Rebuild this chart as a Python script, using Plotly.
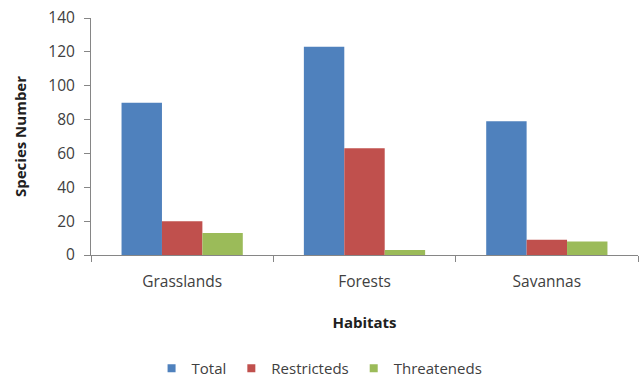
import plotly.graph_objects as go

habitats = ["Grasslands", "Forests", "Savannas"]
total = [90, 123, 79]
restricted = [20, 63, 9]
threatened = [13, 3, 8]
series_names = ["Total", "Restricteds", "Threateneds"]
colors = ["#4F81BD", "#C0504D", "#9BBB59"]

fig = go.Figure()
for name, vals, c in zip(series_names, [total, restricted, threatened], colors):
    fig.add_trace(go.Bar(x=habitats, y=vals, name=name, marker_color=c,
                         marker_line_width=0, showlegend=False))
# legend entries with small square swatches
for name, c in zip(series_names, colors):
    fig.add_trace(go.Scatter(x=[None], y=[None], mode="markers", name=name,
                             marker=dict(symbol="square", size=8, color=c),
                             showlegend=True))

font_family = "Open Sans, Liberation Sans, sans-serif"
fig.update_layout(
    width=643, height=380,
    margin=dict(l=91, r=5, t=18, b=125),
    plot_bgcolor="white", paper_bgcolor="white",
    barmode="group", bargap=0.335, bargroupgap=0,
    font=dict(family=font_family, size=15.5, color="#404040"),
    showlegend=True,
    legend=dict(orientation="h", x=0.497, xanchor="center", xref="container",
                y=0.03, yanchor="middle", yref="container", itemwidth=30,
                font=dict(size=15, color="#404040"), traceorder="normal"),
    xaxis=dict(
        showline=True, linecolor="#868686", linewidth=1,
        ticks="outside", ticklen=6, tickcolor="#868686", tickson="boundaries",
        ticklabelstandoff=12,
        title=dict(text="<b>Habitats</b>", font=dict(size=15, color="#202020"), standoff=26),
        tickfont=dict(size=15.5, color="#404040"),
    ),
    yaxis=dict(
        range=[0, 140], dtick=20, showgrid=False,
        showline=True, linecolor="#868686", linewidth=1,
        ticks="outside", ticklen=6, tickcolor="#868686",
        ticklabelstandoff=6,
        title=dict(text="<b>Species Number</b>", font=dict(size=15, color="#202020"), standoff=18),
        tickfont=dict(size=15.5, color="#404040"),
        zeroline=False,
    ),
)
fig.write_html("out.html")
